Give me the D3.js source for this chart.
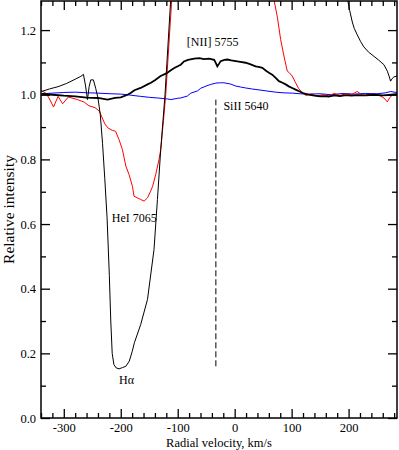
<!DOCTYPE html>
<html>
<head>
<meta charset="utf-8">
<script src="https://cdn.jsdelivr.net/npm/d3@7"></script>
<style>
  body { margin: 0; background: #fff; }
  text { font-family: "Liberation Serif", "DejaVu Serif", serif; fill: #000; }
</style>
</head>
<body>
<script>
// Halpha profile (thin black), velocity km/s / relative intensity
const haVel = [-339, -325, -310, -295, -280, -270, -265.5, -262, -258.4, -255.5, -252.6, -248, -244, -240, -236, -232, -228, -224, -220, -217.5, -215, -212, -208, -203, -197, -191, -185, -180, -176, -165, -153, -141.6, -135.6, -129.8, -122.3, -112.3, -100, 50, 180, 190, 197.7, 202, 206.5, 210, 215.3, 221, 226.8, 235, 244.4, 253, 262, 268, 271, 273.7, 276.5, 279.5, 287];
const haInt = [1.010, 1.018, 1.025, 1.035, 1.048, 1.057, 1.063, 1.030, 0.985, 1.025, 1.046, 1.046, 1.020, 0.990, 0.940, 0.850, 0.740, 0.620, 0.440, 0.300, 0.200, 0.165, 0.155, 0.152, 0.156, 0.160, 0.176, 0.205, 0.233, 0.289, 0.367, 0.521, 0.676, 0.830, 1.000, 1.294, 1.700, 3.000, 1.600, 1.450, 1.300, 1.260, 1.225, 1.205, 1.185, 1.165, 1.148, 1.132, 1.119, 1.107, 1.093, 1.073, 1.058, 1.042, 1.050, 1.055, 1.059];

// HeI 7065 (red)
const heVel = [-339, -332, -326, -318, -310, -302, -292, -276, -264, -256, -245, -238, -235, -228, -223, -215, -209, -203, -197, -191, -185.4, -179.5, -176.7, -170.8, -165, -159, -153, -148, -144, -138.6, -132.8, -129.8, -125, -121, -110.5, -100, 0, 60, 69, 75, 80.7, 86.5, 92.4, 96, 101, 107, 112, 118.8, 125, 135, 145, 155, 165, 175, 185, 195, 205, 215, 225, 240, 255, 262, 268, 272, 278, 287];
const heInt = [1.012, 1.006, 0.990, 0.962, 0.995, 0.972, 0.993, 0.985, 0.977, 0.966, 0.960, 0.950, 0.939, 0.910, 0.898, 0.890, 0.887, 0.861, 0.830, 0.779, 0.753, 0.717, 0.686, 0.681, 0.676, 0.671, 0.681, 0.700, 0.717, 0.753, 0.800, 0.830, 0.920, 1.000, 1.294, 1.600, 3.000, 1.500, 1.294, 1.240, 1.171, 1.120, 1.073, 1.068, 1.058, 1.037, 1.020, 1.006, 0.998, 1.002, 0.996, 1.000, 0.997, 1.004, 0.998, 1.003, 1.000, 1.010, 0.998, 1.002, 0.997, 0.990, 0.978, 0.990, 1.002, 1.000];

// [NII] 5755 (thick black)
const niVel = [-339, -320, -300, -280, -260, -240, -223, -210, -200, -188, -182, -176, -165, -153, -147, -140, -130, -120, -112, -106, -100, -94.7, -89, -82, -71, -62, -54, -45, -36, -33, -30.4, -27, -24.6, -18, -12.8, -6, 2, 10, 19.3, 28, 36.8, 42, 48.6, 55, 60.2, 66, 72, 77.7, 84, 89.5, 95, 101, 107, 114, 121.6, 130, 140, 150, 157, 165, 175, 185, 195, 205, 215, 230, 245, 260, 275, 287];
const niInt = [1.003, 1.000, 0.997, 0.995, 0.991, 0.990, 0.985, 0.990, 0.992, 1.000, 1.006, 1.014, 1.021, 1.032, 1.037, 1.045, 1.058, 1.066, 1.076, 1.083, 1.088, 1.093, 1.103, 1.108, 1.112, 1.113, 1.110, 1.112, 1.108, 1.098, 1.088, 1.097, 1.104, 1.108, 1.109, 1.106, 1.104, 1.102, 1.099, 1.094, 1.088, 1.086, 1.083, 1.074, 1.068, 1.062, 1.052, 1.042, 1.037, 1.032, 1.026, 1.021, 1.016, 1.010, 1.004, 1.000, 0.997, 0.995, 0.996, 0.994, 0.998, 0.996, 0.999, 0.997, 0.999, 0.998, 1.000, 0.998, 1.000, 1.002];

// SiII 5640 (blue)
const siVel = [-339, -320, -300, -280, -258, -240, -217, -200, -188, -175, -165, -150, -135, -118, -112, -100, -94.7, -83, -77, -65, -59.6, -50, -42, -33, -25, -18.8, -7, 1.8, 10, 19.3, 30, 42.6, 55, 72, 85, 101, 115, 130, 150, 170, 190, 210, 230, 250, 265, 274, 287];
const siInt = [1.003, 1.005, 1.007, 1.008, 1.006, 1.005, 1.003, 1.002, 1.000, 0.997, 0.995, 0.992, 0.990, 0.987, 0.985, 0.989, 0.990, 0.996, 1.005, 1.012, 1.020, 1.027, 1.032, 1.036, 1.037, 1.037, 1.033, 1.027, 1.024, 1.021, 1.018, 1.015, 1.012, 1.008, 1.006, 1.005, 1.003, 1.002, 1.003, 1.000, 1.004, 1.002, 1.004, 1.003, 1.006, 1.010, 1.006];

// SiII 5640 marker (dashed vertical)
const siMarkVel = -33;
const siMarkRange = [0.16, 0.985];

const xMajor = [-300, -200, -100, 0, 100, 200];
const yMajor = [0.0, 0.2, 0.4, 0.6, 0.8, 1.0, 1.2];

const labels = [
	{ text: '[NII] 5755', vel: -38.6, inten: 1.152, anchor: 'middle' },
	{ text: 'SiII 5640', vel: -19.8, inten: 0.954, anchor: 'start' },
	{ text: 'HeI 7065', vel: -215.8, inten: 0.605, anchor: 'start' },
	{ text: 'H\u03b1', vel: -203, inten: 0.104, anchor: 'start' },
];

const width = 399;
const height = 450;
const margin = { left: 41, right: 397, top: 1, bottom: 418 };

const x = d3.scaleLinear().domain([-340, 285]).range([margin.left, margin.right]);
const y = d3.scaleLinear().domain([0, 1.29]).range([margin.bottom, margin.top]);

const xMinor = d3.range(-340, 286, 20).filter(v => !xMajor.includes(v));
const yMinor = [0.1, 0.3, 0.5, 0.7, 0.9, 1.1];

const svg = d3.select('body')
	.append('svg')
	.attr('width', width)
	.attr('height', height);

svg.append('defs').append('clipPath')
	.attr('id', 'plot-clip')
	.append('rect')
	.attr('x', margin.left)
	.attr('y', margin.top)
	.attr('width', margin.right - margin.left)
	.attr('height', margin.bottom - margin.top);

const plot = svg.append('g').attr('clip-path', 'url(#plot-clip)');

function makeLine(vel, inten) {
	return d3.line()
		.x(i => x(vel[i]))
		.y(i => y(inten[i]))(d3.range(vel.length));
}

plot.append('path')
	.attr('d', makeLine(siVel, siInt))
	.attr('fill', 'none')
	.attr('stroke', '#0000ff')
	.attr('stroke-width', 1);

plot.append('path')
	.attr('d', makeLine(heVel, heInt))
	.attr('fill', 'none')
	.attr('stroke', '#ff0000')
	.attr('stroke-width', 1);

plot.append('path')
	.attr('d', makeLine(haVel, haInt))
	.attr('fill', 'none')
	.attr('stroke', '#000')
	.attr('stroke-width', 1);

plot.append('path')
	.attr('d', makeLine(niVel, niInt))
	.attr('fill', 'none')
	.attr('stroke', '#000')
	.attr('stroke-width', 1.8);

plot.append('line')
	.attr('x1', x(siMarkVel))
	.attr('x2', x(siMarkVel))
	.attr('y1', y(siMarkRange[0]))
	.attr('y2', y(siMarkRange[1]))
	.attr('stroke', '#000')
	.attr('stroke-width', 1)
	.attr('stroke-dasharray', '6,3');

// axes: ticks point inward on all four sides
function addAxis(axisFn, scale, values, size, transform, fmt, pad) {
	const g = svg.append('g')
		.attr('transform', transform)
		.call(axisFn(scale).tickValues(values).tickSize(-size).tickPadding(pad).tickFormat(fmt));
	g.select('.domain').remove();
	g.selectAll('.tick line').attr('stroke', '#000').attr('stroke-width', 1.3);
	g.selectAll('.tick text')
		.style('font-family', '"Liberation Serif", serif')
		.style('font-size', '12.5px');
	return g;
}

const noLabel = () => '';
addAxis(d3.axisBottom, x, xMajor, 9, `translate(0,${margin.bottom})`, d => String(d), 5);
addAxis(d3.axisBottom, x, xMinor, 5, `translate(0,${margin.bottom})`, noLabel, 5);
addAxis(d3.axisTop, x, xMajor, 9, `translate(0,${margin.top})`, noLabel, 5);
addAxis(d3.axisTop, x, xMinor, 5, `translate(0,${margin.top})`, noLabel, 5);
addAxis(d3.axisLeft, y, yMajor, 9, `translate(${margin.left},0)`, d3.format('.1f'), 5);
addAxis(d3.axisLeft, y, yMinor, 5, `translate(${margin.left},0)`, noLabel, 5);
addAxis(d3.axisRight, y, yMajor, 9, `translate(${margin.right},0)`, noLabel, 5);
addAxis(d3.axisRight, y, yMinor, 5, `translate(${margin.right},0)`, noLabel, 5);

svg.append('rect')
	.attr('x', margin.left)
	.attr('y', margin.top)
	.attr('width', margin.right - margin.left)
	.attr('height', margin.bottom - margin.top)
	.attr('fill', 'none')
	.attr('stroke', '#000')
	.attr('stroke-width', 1.5);

svg.selectAll('text.note')
	.data(labels)
	.enter()
	.append('text')
	.attr('class', 'note')
	.attr('x', d => x(d.vel))
	.attr('y', d => y(d.inten))
	.attr('text-anchor', d => d.anchor)
	.style('font-size', '12px')
	.text(d => d.text);

svg.append('text')
	.attr('x', (margin.left + margin.right) / 2)
	.attr('y', 447)
	.attr('text-anchor', 'middle')
	.style('font-size', '12.5px')
	.text('Radial velocity, km/s');

svg.append('text')
	.attr('transform', `translate(14,${(margin.top + margin.bottom) / 2}) rotate(-90)`)
	.attr('text-anchor', 'middle')
	.style('font-size', '15.5px')
	.text('Relative intensity');
</script>
</body>
</html>
